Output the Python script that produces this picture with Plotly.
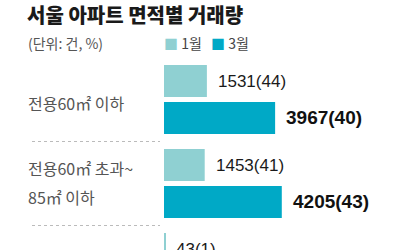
import plotly.graph_objects as go

categories = ["전용60㎡ 이하", "전용60㎡ 초과~<br>85㎡ 이하", "전용85㎡ 초과~<br>102㎡ 이하"]
series_names = ["1월", "3월"]
jan_values = [1531, 1453, 43]
jan_pct = [44, 41, 1]
mar_values = [3967, 4205, 120]
mar_pct = [40, 43, 1]

title = "서울 아파트 면적별 거래량"
unit_note = "(단위: 건, %)"

c_jan = "#8FD0D2"
c_mar = "#00A9C6"
kr = "Noto Sans CJK KR, Noto Sans, sans-serif"
num = "Liberation Sans, Arial, sans-serif"

idx = list(range(len(categories)))

fig = go.Figure()
fig.add_trace(go.Bar(y=idx, x=jan_values, orientation="h", name=series_names[0],
                     marker=dict(color=c_jan, line=dict(width=0))))
fig.add_trace(go.Bar(y=idx, x=mar_values, orientation="h", name=series_names[1],
                     marker=dict(color=c_mar, line=dict(width=0))))

off = (1 - 0.12) / 4
for i in idx:
    fig.add_annotation(x=jan_values[i], y=i - off, xref="x", yref="y",
                       text=f"{jan_values[i]}({jan_pct[i]})", showarrow=False,
                       xanchor="left", xshift=9,
                       font=dict(family=num, size=17, color="#1a1a1a"))
    fig.add_annotation(x=mar_values[i], y=i + off, xref="x", yref="y",
                       text=f"<b>{mar_values[i]}({mar_pct[i]})</b>", showarrow=False,
                       xanchor="left", xshift=9,
                       font=dict(family=num, size=19, color="#111"))
    lines = categories[i].split("<br>")
    n = len(lines)
    for k, ln in enumerate(lines):
        fig.add_annotation(x=26 / 400, y=i, xref="paper", yref="y", text=ln,
                           showarrow=False, xanchor="left",
                           yshift=(-(k - (n - 1) / 2) * 29) + (-3 if n == 1 else 1),
                           font=dict(family=kr, size=16, color="#555"))
    if i < len(categories) - 1:
        fig.add_shape(type="line", xref="paper", yref="y", x0=32 / 400, x1=160 / 400,
                      y0=i + 0.5, y1=i + 0.5,
                      line=dict(color="#bbb", width=1, dash="dot"))

fig.add_annotation(x=25 / 400, y=1 - 14 / 250, xref="paper", yref="paper",
                   text=title, showarrow=False, xanchor="left", yanchor="middle",
                   font=dict(family=kr, size=20, color="#1a1a1a", weight=900))
fig.add_annotation(x=26 / 400, y=1 - 43 / 250, xref="paper", yref="paper",
                   text=unit_note, showarrow=False, xanchor="left", yanchor="middle",
                   font=dict(family=kr, size=14, color="#555"))
leg_x = [162, 209]
for j, (nm, col) in enumerate(zip(series_names, [c_jan, c_mar])):
    fig.add_annotation(x=leg_x[j] / 400, y=1 - 43 / 250, xref="paper", yref="paper",
                       text=f"<span style='color:{col}'>■</span> {nm}", showarrow=False,
                       xanchor="left", yanchor="middle",
                       font=dict(family=kr, size=14, color="#444"))

px_per_cat = 84
center0 = 99.5
fig.update_layout(
    width=400, height=250, margin=dict(l=0, r=0, t=0, b=0),
    paper_bgcolor="white", plot_bgcolor="white",
    barmode="group", bargap=0.12, bargroupgap=0.134,
    showlegend=False,
    xaxis=dict(domain=[164 / 400, 1], range=[0, 236 * 35.7], visible=False, fixedrange=True),
    yaxis=dict(range=[(250 - center0) / px_per_cat, -center0 / px_per_cat],
               visible=False, fixedrange=True),
)
fig.write_html("out.html")
